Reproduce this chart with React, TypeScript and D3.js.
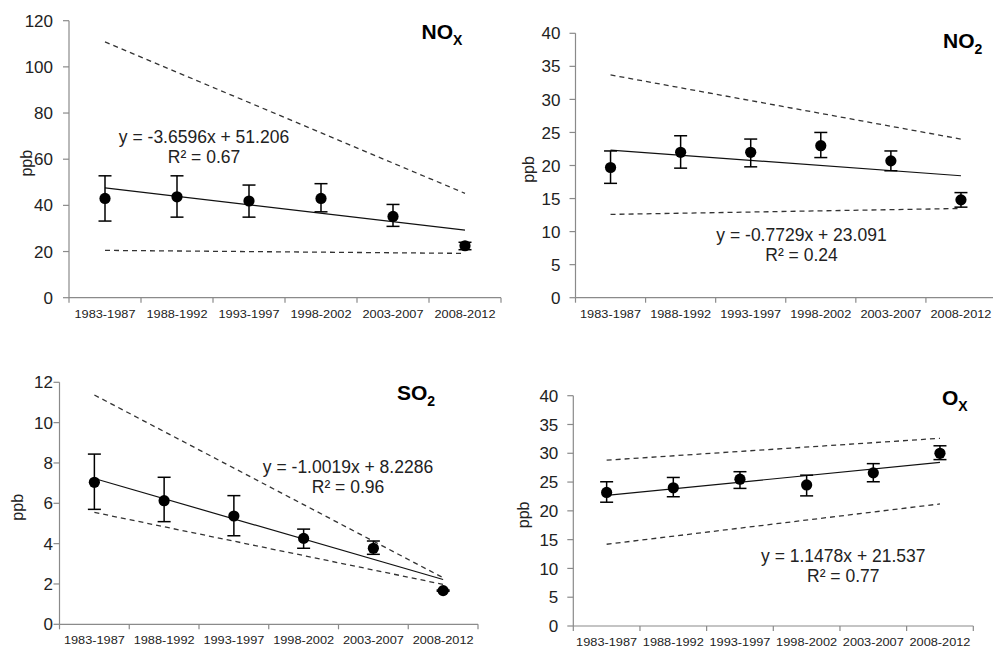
import { useEffect, useRef } from 'react';
import * as d3 from 'd3';

const categories = ['1983-1987', '1988-1992', '1993-1997', '1998-2002', '2003-2007', '2008-2012'];

// NOx
const noxMean = [43.0, 43.7, 41.9, 43.0, 35.2, 22.5];
const noxHigh = [52.8, 52.8, 48.8, 49.4, 40.4, 24.0];
const noxLow = [33.2, 34.9, 34.9, 37.2, 30.9, 20.8];
const noxTrend = [47.55, 29.25];
const noxUpper = [110.8, 45.2];
const noxLower = [20.5, 19.2];

// NO2
const no2Mean = [19.7, 22.0, 22.0, 23.0, 20.7, 14.8];
const no2High = [22.2, 24.5, 24.0, 25.0, 22.2, 15.9];
const no2Low = [17.3, 19.6, 19.8, 21.2, 19.2, 13.7];
const no2Trend = [22.32, 18.45];
const no2Upper = [33.7, 24.0];
const no2Lower = [12.6, 13.5];

// SO2
const so2Mean = [7.04, 6.13, 5.37, 4.26, 3.77, 1.67];
const so2High = [8.44, 7.29, 6.38, 4.72, 4.13, 1.7];
const so2Low = [5.7, 5.09, 4.39, 3.77, 3.47, 1.64];
const so2Trend = [7.23, 2.22];
const so2Upper = [11.37, 2.31];
const so2Lower = [5.55, 1.98];

// Ox
const oxMean = [23.2, 24.0, 25.5, 24.5, 26.6, 30.0];
const oxHigh = [25.05, 25.8, 26.8, 26.2, 28.2, 31.3];
const oxLow = [21.5, 22.45, 23.9, 22.6, 25.05, 28.9];
const oxTrend = [22.68, 28.42];
const oxUpper = [28.8, 32.6];
const oxLower = [14.2, 21.2];

const panels = [
    {
        main: 'NO', sub: 'X', eq: 'y = -3.6596x + 51.206', r2: 'R² = 0.67',
        mean: noxMean, high: noxHigh, low: noxLow, trend: noxTrend, upper: noxUpper, lower: noxLower,
        yMax: 120, yStep: 20,
        box: { left: 69, right: 501, top: 20.7, bottom: 297.7 },
        title: { x: 421.5, y: 38.5 }, eqPos: { x: 204, y: 143 }, ppbX: 26, labelGap: 16,
    },
    {
        main: 'NO', sub: '2', eq: 'y = -0.7729x + 23.091', r2: 'R² = 0.24',
        mean: no2Mean, high: no2High, low: no2Low, trend: no2Trend, upper: no2Upper, lower: no2Lower,
        yMax: 40, yStep: 5,
        box: { left: 575.5, right: 996, top: 33.3, bottom: 297.7 },
        title: { x: 943, y: 48 }, eqPos: { x: 801.5, y: 240.7 }, ppbX: 528.5, labelGap: 15,
    },
    {
        main: 'SO', sub: '2', eq: 'y = -1.0019x + 8.2286', r2: 'R² = 0.96',
        mean: so2Mean, high: so2High, low: so2Low, trend: so2Trend, upper: so2Upper, lower: so2Lower,
        yMax: 12, yStep: 2,
        box: { left: 59.5, right: 478, top: 382.3, bottom: 624.3 },
        title: { x: 397, y: 399.5 }, eqPos: { x: 348, y: 472.7 }, ppbX: 17, labelGap: 6.5,
    },
    {
        main: 'O', sub: 'X', eq: 'y = 1.1478x + 21.537', r2: 'R² = 0.77',
        mean: oxMean, high: oxHigh, low: oxLow, trend: oxTrend, upper: oxUpper, lower: oxLower,
        yMax: 40, yStep: 5,
        box: { left: 573.3, right: 973.3, top: 395.7, bottom: 626 },
        title: { x: 942, y: 405 }, eqPos: { x: 843.3, y: 561.7 }, ppbX: 523.5, labelGap: 15,
    },
];

const FONT = 'Arial, "Liberation Sans", sans-serif';

export default function App() {
    const svgRef = useRef<SVGSVGElement>(null);

    useEffect(() => {
        if (!svgRef.current) return;
        const svg = d3.select(svgRef.current);
        svg.selectAll('*').remove();
        svg.append('rect').attr('width', 993).attr('height', 651).attr('fill', '#fff');

        panels.forEach(p => {
            const { box } = p;
            const x = d3.scaleBand<string>().domain(categories).range([box.left, box.right]).paddingInner(0).paddingOuter(0);
            const y = d3.scaleLinear().domain([0, p.yMax]).range([box.bottom, box.top]);
            const cx = (c: string) => (x(c) ?? 0) + x.bandwidth() / 2;
            const g = svg.append('g');

            // axes
            g.append('line').attr('x1', box.left).attr('x2', box.left).attr('y1', box.top).attr('y2', box.bottom)
                .attr('stroke', '#8a8a8a').attr('stroke-width', 1.2);
            g.append('line').attr('x1', box.left).attr('x2', box.right).attr('y1', box.bottom).attr('y2', box.bottom)
                .attr('stroke', '#8a8a8a').attr('stroke-width', 1.2);

            const yTicks = d3.range(0, p.yMax + 0.001, p.yStep);
            g.selectAll('.yt').data(yTicks).join('line')
                .attr('x1', box.left - 6).attr('x2', box.left)
                .attr('y1', d => y(d)).attr('y2', d => y(d))
                .attr('stroke', '#8a8a8a').attr('stroke-width', 1.2);
            g.selectAll('.yl').data(yTicks).join('text')
                .attr('x', box.left - p.labelGap).attr('y', d => y(d)).attr('dy', '0.36em')
                .attr('text-anchor', 'end').attr('font-family', FONT).attr('font-size', 17).attr('fill', '#222')
                .text(d => d3.format('d')(d));

            const xTicks = [...categories.map(c => x(c) ?? 0), box.right];
            g.selectAll('.xt').data(xTicks).join('line')
                .attr('x1', d => d).attr('x2', d => d).attr('y1', box.bottom).attr('y2', box.bottom + 5)
                .attr('stroke', '#8a8a8a').attr('stroke-width', 1.2);
            g.selectAll('.xl').data(categories).join('text')
                .attr('x', d => cx(d) - 30.5).attr('y', box.bottom + 19.8)
                .attr('textLength', 61).attr('lengthAdjust', 'spacingAndGlyphs')
                .attr('font-family', FONT).attr('font-size', 11).attr('fill', '#222')
                .text(d => d);

            // y label
            g.append('text')
                .attr('transform', `translate(${p.ppbX},${(box.top + box.bottom) / 2 + 4}) rotate(-90)`)
                .attr('text-anchor', 'middle').attr('dy', '0.36em')
                .attr('font-family', FONT).attr('font-size', 16).attr('fill', '#222')
                .text('ppb');

            // dashed bounds
            const ends = [categories[0], categories[categories.length - 1]];
            const line = d3.line<number>().x((_, i) => cx(ends[i])).y(d => y(d));
            [p.upper, p.lower].forEach(arr => {
                g.append('path').attr('d', line(arr)).attr('fill', 'none')
                    .attr('stroke', '#333').attr('stroke-width', 1.3).attr('stroke-dasharray', '5,4');
            });

            // trend line
            g.append('path').attr('d', line(p.trend)).attr('fill', 'none')
                .attr('stroke', '#111').attr('stroke-width', 1.2);

            // error bars
            categories.forEach((c, i) => {
                const px = cx(c);
                g.append('line').attr('x1', px).attr('x2', px).attr('y1', y(p.high[i])).attr('y2', y(p.low[i]))
                    .attr('stroke', '#000').attr('stroke-width', 1.5);
                [p.high[i], p.low[i]].forEach(v => {
                    g.append('line').attr('x1', px - 6.5).attr('x2', px + 6.5).attr('y1', y(v)).attr('y2', y(v))
                        .attr('stroke', '#000').attr('stroke-width', 1.5);
                });
            });

            g.selectAll('.pt').data(categories).join('circle')
                .attr('cx', d => cx(d)).attr('cy', (_, i) => y(p.mean[i])).attr('r', 5.6).attr('fill', '#000');

            // equation
            g.append('text').attr('x', p.eqPos.x).attr('y', p.eqPos.y).attr('text-anchor', 'middle')
                .attr('font-family', FONT).attr('font-size', 17.5).attr('fill', '#222').text(p.eq);
            g.append('text').attr('x', p.eqPos.x).attr('y', p.eqPos.y + 20).attr('text-anchor', 'middle')
                .attr('font-family', FONT).attr('font-size', 17.5).attr('fill', '#222').text(p.r2);

            // title
            const t = g.append('text').attr('x', p.title.x).attr('y', p.title.y)
                .attr('font-family', FONT).attr('font-weight', 'bold').attr('font-size', 21).attr('fill', '#000');
            t.append('tspan').text(p.main);
            t.append('tspan').attr('dy', 6).attr('font-size', 14).text(p.sub);
        });
    }, []);

    return (
        <div style={{ position: 'absolute', left: 0, top: 0 }}>
            <svg ref={svgRef} width={993} height={651} style={{ display: 'block' }} />
        </div>
    );
}
